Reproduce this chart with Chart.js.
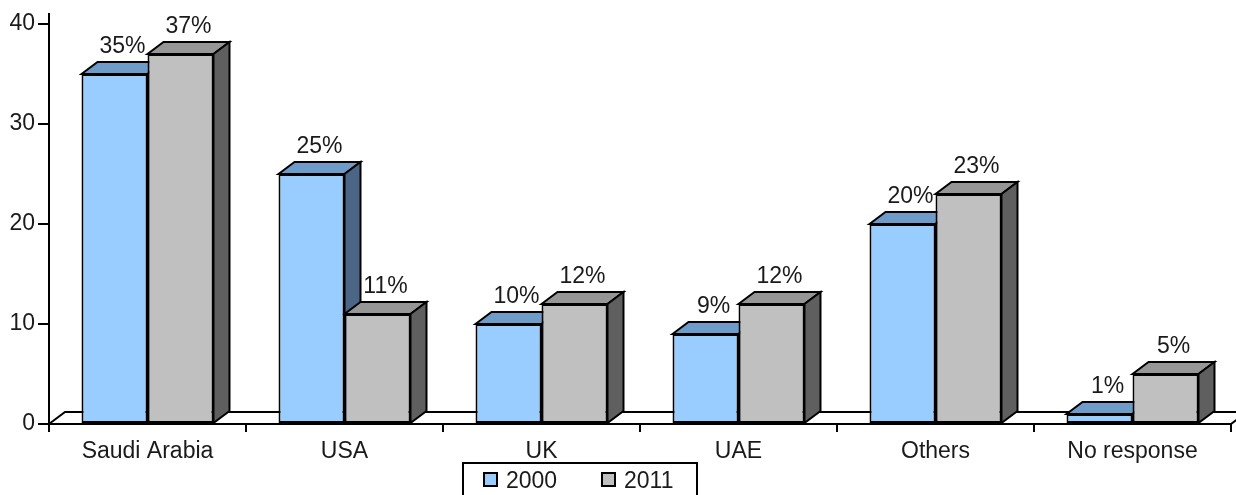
<!DOCTYPE html>
<html>
<head>
<meta charset="utf-8">
<script src="https://cdn.jsdelivr.net/npm/chart.js@4.4.1/dist/chart.umd.min.js"></script>
<style>
  html, body { margin: 0; padding: 0; background: #fff; }
  #wrap { width: 1236px; height: 495px; }
</style>
</head>
<body>
<div id="wrap"><canvas id="chart"></canvas></div>
<script>
const categories = ['Saudi Arabia', 'USA', 'UK', 'UAE', 'Others', 'No response'];
const values2000 = [35, 25, 10, 9, 20, 1];
const values2011 = [37, 11, 12, 12, 23, 5];
const seriesNames = ['2000', '2011'];
const yTicks = [0, 10, 20, 30, 40];

const FONT = '"Liberation Sans", Arial, sans-serif';
const FONT_SIZE = 23;
const DX = 16, DY = -12; // depth offset of the 3D boxes

const faces = [
    { front: '#99CCFF', top: '#6E9BC7', side: '#4B6586' },
    { front: '#C0C0C0', top: '#969696', side: '#5F5F5F' }
];

function poly(ctx, pts, fill) {
    ctx.beginPath();
    ctx.moveTo(pts[0][0], pts[0][1]);
    for (let i = 1; i < pts.length; i++) ctx.lineTo(pts[i][0], pts[i][1]);
    ctx.closePath();
    ctx.fillStyle = fill;
    ctx.fill();
    ctx.stroke();
}

// floor, box tops and sides go under the front faces
const boxPlugin = {
    id: 'boxes',
    beforeDatasetsDraw(chart) {
        const ctx = chart.ctx;
        const area = chart.chartArea;
        ctx.save();
        ctx.lineWidth = 2;
        ctx.strokeStyle = '#000';
        ctx.lineJoin = 'miter';
        poly(ctx, [[area.left, area.bottom], [area.left + DX, area.bottom + DY],
                   [area.right + DX, area.bottom + DY], [area.right, area.bottom]], '#fff');
        for (let i = 0; i < categories.length; i++) {
            chart.data.datasets.forEach((ds, d) => {
                const bar = chart.getDatasetMeta(d).data[i];
                const L = bar.x - bar.width / 2, R = bar.x + bar.width / 2;
                const T = bar.y, B = bar.base;
                poly(ctx, [[L, T], [L + DX, T + DY], [R + DX, T + DY], [R, T]], faces[d].top);
                poly(ctx, [[R, T], [R + DX, T + DY], [R + DX, B + DY], [R, B]], faces[d].side);
            });
        }
        ctx.restore();
    },
    afterDraw(chart) {
        const ctx = chart.ctx;
        const area = chart.chartArea;
        ctx.save();
        // axis lines
        ctx.strokeStyle = '#000';
        ctx.lineWidth = 2;
        ctx.beginPath();
        ctx.moveTo(area.left, area.top - 11);
        ctx.lineTo(area.left, area.bottom + 8);
        ctx.moveTo(area.left, area.bottom);
        ctx.lineTo(area.right, area.bottom);
        ctx.stroke();

        // value labels
        ctx.font = FONT_SIZE + 'px ' + FONT;
        ctx.fillStyle = '#1a1a1a';
        ctx.textAlign = 'center';
        ctx.textBaseline = 'alphabetic';
        chart.data.datasets.forEach((ds, d) => {
            chart.getDatasetMeta(d).data.forEach((bar, i) => {
                ctx.fillText(ds.data[i] + '%', bar.x + DX / 2, bar.y + DY - 9);
            });
        });

        // legend box
        const lx = 463, ly = 463, lw = 234, lh = 40;
        ctx.lineWidth = 2;
        ctx.strokeRect(lx, ly, lw, lh);
        ctx.textAlign = 'left';
        ctx.textBaseline = 'alphabetic';
        const itemX = [484, 602];
        seriesNames.forEach((name, d) => {
            ctx.fillStyle = faces[d].front;
            ctx.fillRect(itemX[d], 473, 13, 13);
            ctx.strokeRect(itemX[d], 473, 13, 13);
            ctx.fillStyle = '#1a1a1a';
            ctx.fillText(name, itemX[d] + 22, 488);
        });
        ctx.restore();
    }
};

const ctx = document.getElementById('chart').getContext('2d');
new Chart(ctx, {
    type: 'bar',
    data: {
        labels: categories,
        datasets: [
            { label: seriesNames[0], data: values2000, backgroundColor: faces[0].front,
              borderColor: '#000', borderWidth: 2, borderSkipped: false },
            { label: seriesNames[1], data: values2011, backgroundColor: faces[1].front,
              borderColor: '#000', borderWidth: 2, borderSkipped: false }
        ]
    },
    options: {
        responsive: true,
        maintainAspectRatio: false,
        animation: false,
        datasets: { bar: { categoryPercentage: 0.67, barPercentage: 1.0 } },
        layout: { padding: { left: 0, top: 24, right: 5, bottom: 0 } },
        plugins: { legend: { display: false }, tooltip: { enabled: false } },
        scales: {
            x: {
                afterFit(scale) { scale.height = 71; },
                border: { display: false },
                grid: { drawOnChartArea: false, offset: true, tickLength: 8, color: '#000', lineWidth: 2 },
                ticks: { color: '#1a1a1a', font: { family: FONT, size: FONT_SIZE }, padding: 6, maxRotation: 0 }
            },
            y: {
                min: 0, max: 40,
                afterFit(scale) { scale.width = 49; },
                afterBuildTicks(scale) { scale.ticks = yTicks.map(v => ({ value: v })); },
                border: { display: false },
                grid: { drawOnChartArea: false, tickLength: 11, color: '#000', lineWidth: 2 },
                ticks: { color: '#1a1a1a', font: { family: FONT, size: FONT_SIZE }, padding: 3 }
            }
        }
    },
    plugins: [boxPlugin]
});
</script>
</body>
</html>
